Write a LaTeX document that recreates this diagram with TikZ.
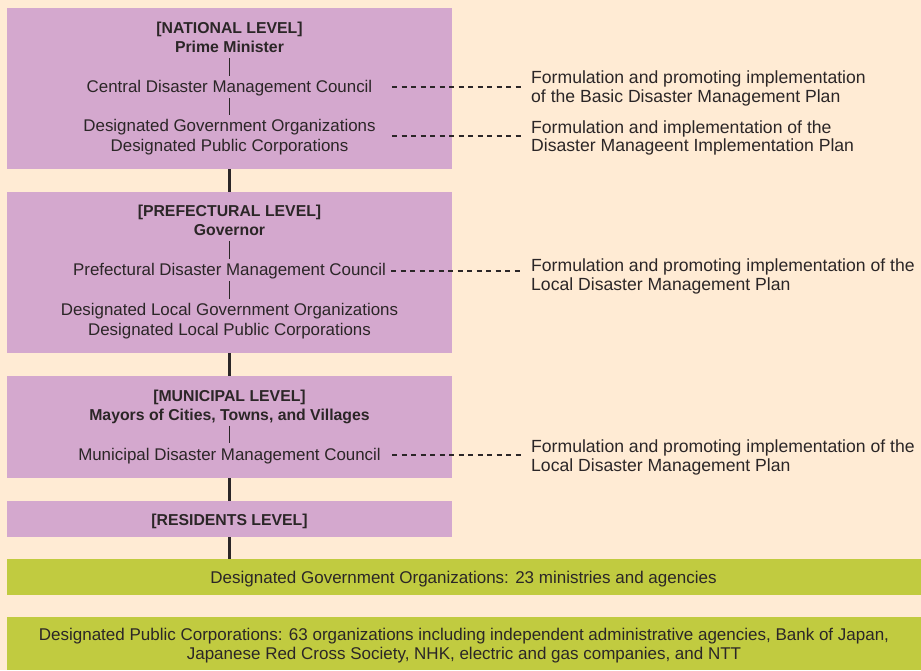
\documentclass[tikz,border=0pt]{standalone}
\usepackage{fontspec}
\setmainfont{Liberation Sans}
\definecolor{bg}{HTML}{FFEBD4}
\definecolor{purp}{HTML}{D4A8CE}
\definecolor{grn}{HTML}{C1CB40}
\definecolor{ink}{HTML}{2B2627}
\begin{document}
\begin{tikzpicture}[x=1pt,y=-1pt,
  levelbox/.style={fill=purp,draw=none,inner sep=0pt,outer sep=0pt,minimum width=445pt,anchor=north west},
  greenbar/.style={fill=grn,draw=none,inner sep=0pt,outer sep=0pt,minimum width=914pt,anchor=north west},
  lt/.style={font=\fontsize{16.9}{19}\selectfont,text=ink,inner xsep=0pt,inner ysep=4.5pt,text height=12pt,text depth=1pt,anchor=base},
  lb/.style={lt,font=\bfseries\fontsize{15.8}{19}\selectfont},
  rt/.style={font=\fontsize{17.6}{19}\selectfont,text=ink,inner sep=0pt,anchor=base west},
  gt/.style={font=\fontsize{17}{19}\selectfont,text=ink,inner sep=0pt,anchor=base},
  trunk/.style={draw=ink,line width=2.6pt},
  tick/.style={draw=ink,line width=1.2pt},
  dots/.style={draw=ink,line width=2.2pt,dash pattern=on 5pt off 4.5pt,shorten >=7pt}]

\fill[bg] (0,0) rectangle (921,670);
\useasboundingbox (0,0) rectangle (921,670);

% boxes
\node[levelbox,minimum height=161pt] (nat) at (7,8) {};
\node[levelbox,minimum height=161pt] (pref) at (7,192) {};
\node[levelbox,minimum height=102pt] (muni) at (7,376) {};
\node[levelbox,minimum height=36pt] (res) at (7,501) {};
\node[greenbar,minimum height=35.5pt] (g1) at (7,559) {};
\node[greenbar,minimum height=53pt] (g2) at (7,617) {};

% trunk
\draw[trunk] (nat.south) -- (pref.north);
\draw[trunk] (pref.south) -- (muni.north);
\draw[trunk] (muni.south) -- (res.north);
\draw[trunk] (res.south) -- (res.south |- g1.north);

% national
\node[lb] (nat1) at (229.5,33) {[NATIONAL LEVEL]};
\node[lb] (nat2) at (229.5,52.3) {Prime Minister};
\node[lt] (nat3) at (229.5,92.7) {Central Disaster Management Council};
\node[lt] (nat4) at (229.5,131.7) {Designated Government Organizations};
\node[lt] (nat5) at (229.5,151) {Designated Public Corporations};
\draw[tick] (nat2.south) -- (nat3.north);
\draw[tick] (nat3.south) -- (nat4.north);

% prefectural
\node[lb] (pref1) at (229.5,216.7) {[PREFECTURAL LEVEL]};
\node[lb] (pref2) at (229.5,235.7) {Governor};
\node[lt] (pref3) at (229.5,275.7) {Prefectural Disaster Management Council};
\node[lt] (pref4) at (229.5,315.7) {Designated Local Government Organizations};
\node[lt] (pref5) at (229.5,335) {Designated Local Public Corporations};
\draw[tick] (pref2.south) -- (pref3.north);
\draw[tick] (pref3.south) -- (pref4.north);

% municipal
\node[lb] (muni1) at (229.5,401.7) {[MUNICIPAL LEVEL]};
\node[lb] (muni2) at (229.5,420) {Mayors of Cities, Towns, and Villages};
\node[lt] (muni3) at (229.5,460) {Municipal Disaster Management Council};
\draw[tick] (muni2.south) -- (muni3.north);

% residents
\node[lb] (res1) at (229.5,525) {[RESIDENTS LEVEL]};

% right texts
\node[rt] (p1a) at (531,83.5) {Formulation and promoting implementation};
\node[rt] (p1b) at (531,102) {of the Basic Disaster Management Plan};
\node[rt] (p2a) at (531,133) {Formulation and implementation of the};
\node[rt] (p2b) at (531,151.5) {Disaster Manageent Implementation Plan};
\node[rt] (p3a) at (531,271.5) {Formulation and promoting implementation of the};
\node[rt] (p3b) at (531,290) {Local Disaster Management Plan};
\node[rt] (p4a) at (531,452.5) {Formulation and promoting implementation of the};
\node[rt] (p4b) at (531,471.5) {Local Disaster Management Plan};

% dashed connectors
\coordinate (d1) at (392,87.3);
\coordinate (d2) at (392,136);
\coordinate (d3) at (391,270.7);
\coordinate (d4) at (392,455);
\draw[dots] (d1) -- (d1 -| p1a.west);
\draw[dots] (d2) -- (d2 -| p2a.west);
\draw[dots] (d3) -- (d3 -| p3a.west);
\draw[dots] (d4) -- (d4 -| p4a.west);

% green texts
\node[gt] (g1t) at (463.5,583) {Designated Government Organizations: 23 ministries and agencies};
\node[gt] (g2a) at (464,640.5) {Designated Public Corporations: 63 organizations including independent administrative agencies, Bank of Japan,};
\node[gt] (g2b) at (464,659.5) {Japanese Red Cross Society, NHK, electric and gas companies, and NTT};
\end{tikzpicture}
\end{document}
